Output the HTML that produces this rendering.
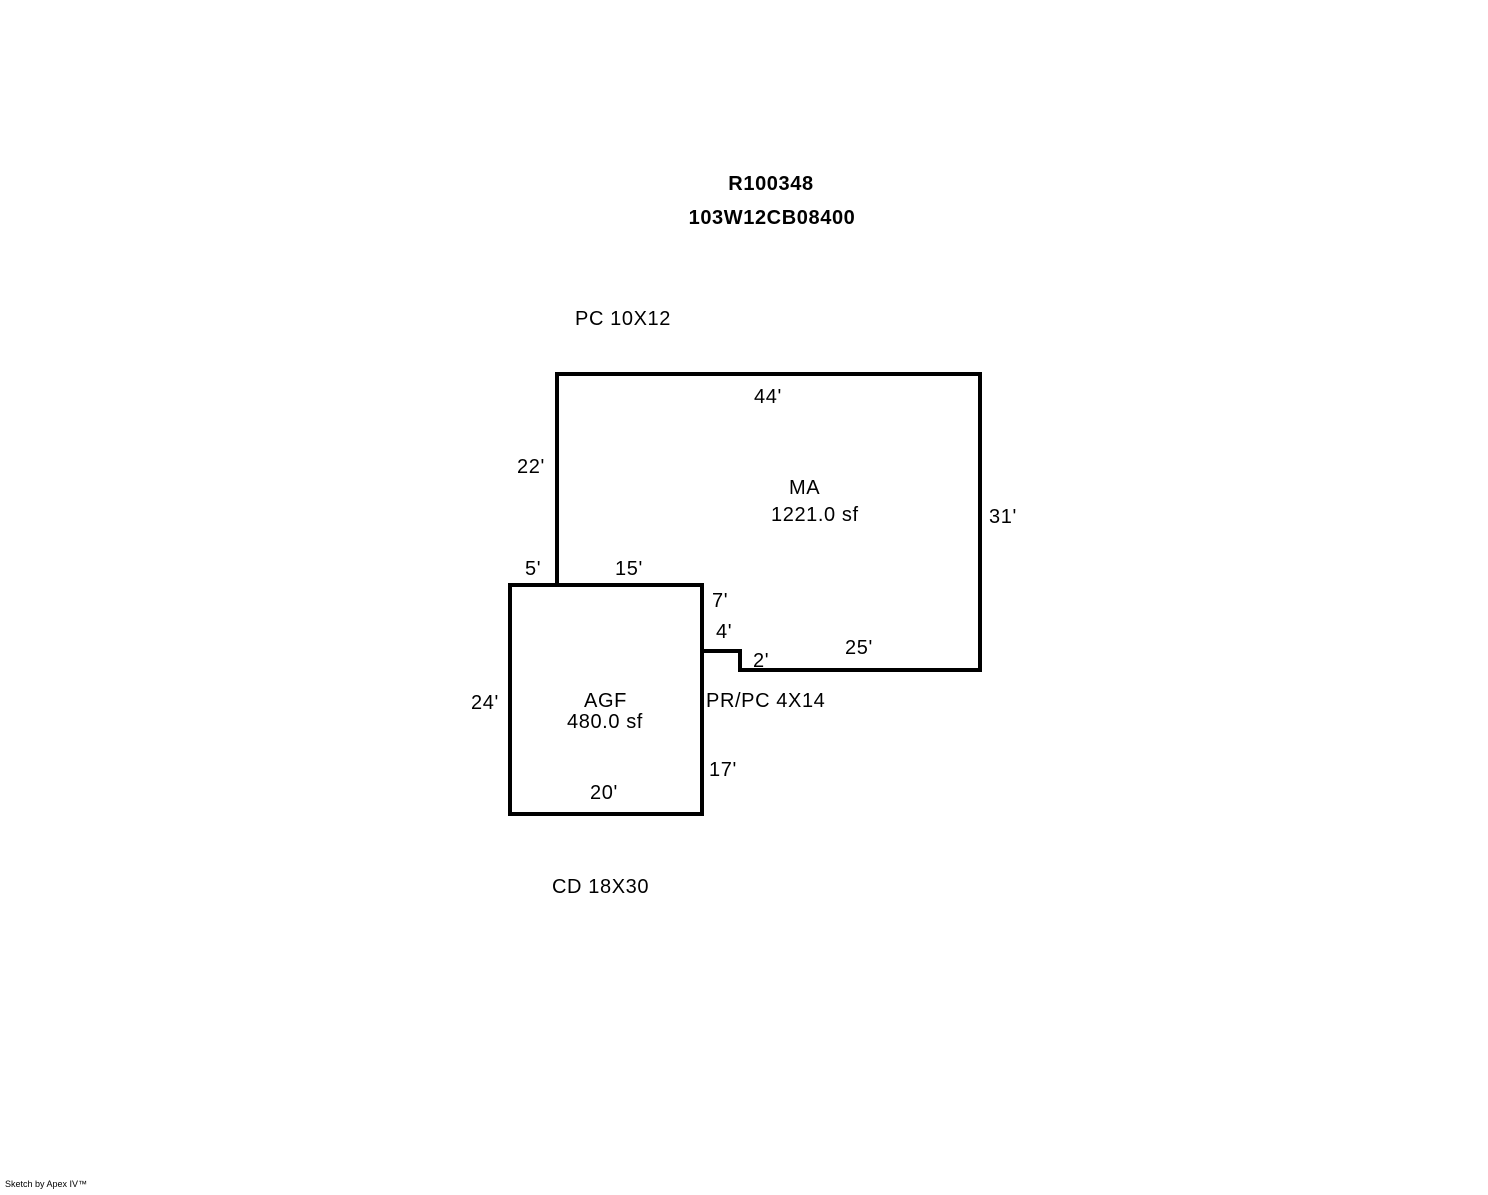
<!DOCTYPE html>
<html><head><style>
html,body{margin:0;padding:0;background:#fff;}
svg text{font-family:"Liberation Sans",Arial,sans-serif;font-size:20px;letter-spacing:0.6px;fill:#000;}
</style></head><body>
<svg width="1488" height="1190" viewBox="0 0 1488 1190" xmlns="http://www.w3.org/2000/svg">
<g fill="none" stroke="#000" stroke-width="4" stroke-linejoin="miter">
<polyline points="557,585 557,374 980,374 980,670 740,670 740,651 702,651"/>
<rect x="510" y="585" width="192" height="229"/>
</g>
<text x="771" y="190" text-anchor="middle" font-weight="bold">R100348</text>
<text x="772" y="224" text-anchor="middle" font-weight="bold">103W12CB08400</text>
<text x="575" y="325">PC 10X12</text>
<text x="754" y="403">44'</text>
<text x="517" y="473">22'</text>
<text x="789" y="494">MA</text>
<text x="771" y="521">1221.0 sf</text>
<text x="989" y="523">31'</text>
<text x="525" y="575">5'</text>
<text x="615" y="575">15'</text>
<text x="712" y="607">7'</text>
<text x="716" y="638">4'</text>
<text x="845" y="654">25'</text>
<text x="753" y="667">2'</text>
<text x="471" y="709">24'</text>
<text x="584" y="707">AGF</text>
<text x="567" y="728">480.0 sf</text>
<text x="706" y="707">PR/PC 4X14</text>
<text x="709" y="776">17'</text>
<text x="590" y="799">20'</text>
<text x="552" y="893">CD 18X30</text>
<text x="5" y="1187" style="font-size:9px;letter-spacing:0">Sketch by Apex IV™</text>
</svg>
</body></html>
